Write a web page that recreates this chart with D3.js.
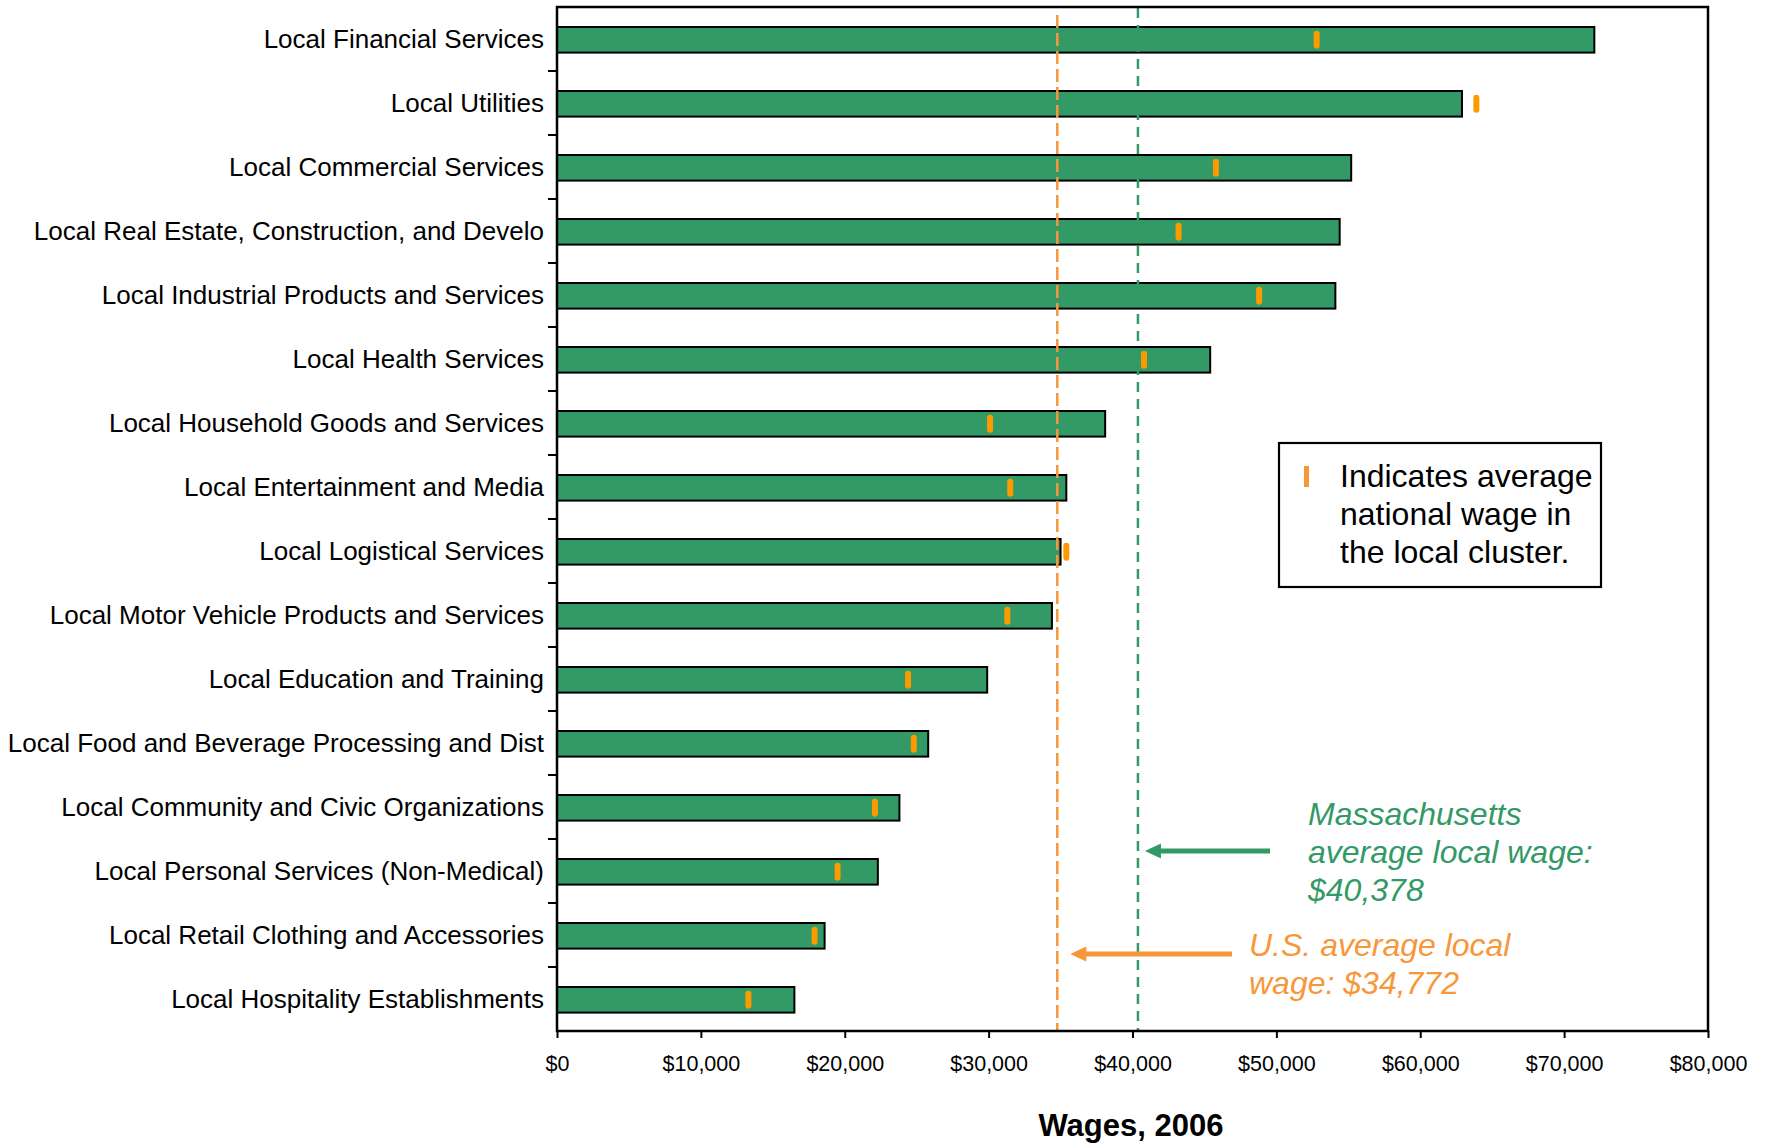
<!DOCTYPE html>
<html><head><meta charset="utf-8">
<script src="https://cdn.jsdelivr.net/npm/d3@7"></script>
<style>
body{margin:0;background:#fff}
svg{display:block}
text{font-family:"Liberation Sans",Arial,Helvetica,sans-serif}
</style>
</head><body>
<svg id="c" width="1768" height="1143"></svg>
<script>
const categories = [
  "Local Financial Services",
  "Local Utilities",
  "Local Commercial Services",
  "Local Real Estate, Construction, and Develo",
  "Local Industrial Products and Services",
  "Local Health Services",
  "Local Household Goods and Services",
  "Local Entertainment and Media",
  "Local Logistical Services",
  "Local Motor Vehicle Products and Services",
  "Local Education and Training",
  "Local Food and Beverage Processing and Dist",
  "Local Community and Civic Organizations",
  "Local Personal Services (Non-Medical)",
  "Local Retail Clothing and Accessories",
  "Local Hospitality Establishments"
];
const maWages = [72100, 62900, 55200, 54400, 54100, 45400, 38100, 35400, 35000, 34400, 29900, 25800, 23800, 22300, 18600, 16500];
const usWages = [52800, 63900, 45800, 43200, 48800, 40800, 30100, 31500, 35400, 31300, 24400, 24800, 22100, 19500, 17900, 13300];
const xTickValues = [0, 10000, 20000, 30000, 40000, 50000, 60000, 70000, 80000];
const maAverage = 40378;
const usAverage = 34772;
const maNote = ["Massachusetts", "average local wage:", "$40,378"];
const usNote = ["U.S. average local", "wage: $34,772"];
const legendLines = ["Indicates average", "national wage in", "the local cluster."];
const axisTitle = "Wages, 2006";

const GREEN = "#339966", ORANGE_LINE = "#F7973A", ORANGE_MARK = "#FF9900";
const svg = d3.select("#c");
const L = 557, R = 1708, T = 7, B = 1031;
const x = d3.scaleLinear().domain([0, 80000]).range([L, R]);
const y = d3.scaleBand().domain(categories).range([T, B]).padding(0);
const bw = y.bandwidth();
const barH = bw * 0.4;
const rows = categories.map((c, i) => ({c, ma: maWages[i], us: usWages[i]}));

// bars
svg.append("g").selectAll("rect").data(rows).join("rect")
  .attr("x", x(0)).attr("y", d => y(d.c) + (bw - barH) / 2 + 0.8)
  .attr("width", d => x(d.ma) - x(0)).attr("height", barH)
  .attr("fill", GREEN).attr("stroke", "#000").attr("stroke-width", 2);

// reference dashed lines
svg.append("line").attr("x1", x(usAverage)).attr("x2", x(usAverage)).attr("y1", T + 8).attr("y2", B)
  .attr("stroke", ORANGE_LINE).attr("stroke-width", 2.5).attr("stroke-dasharray", "13,5");
svg.append("line").attr("x1", x(maAverage)).attr("x2", x(maAverage)).attr("y1", T + 1).attr("y2", B)
  .attr("stroke", GREEN).attr("stroke-width", 2.5).attr("stroke-dasharray", "10,7");

// national markers
svg.append("g").selectAll("rect").data(rows).join("rect")
  .attr("x", d => x(d.us) - 3).attr("y", d => y(d.c) + bw / 2 - 9 + 0.8)
  .attr("width", 6).attr("height", 18).attr("rx", 3)
  .attr("fill", ORANGE_MARK);

// left axis labels
const gy = svg.append("g").attr("transform", `translate(${L},0)`)
  .call(d3.axisLeft(y).tickSize(0).tickPadding(13));
gy.select(".domain").remove();
gy.selectAll("text").attr("font-size", 26).attr("fill", "#000").attr("dy", "0.36em")
  .style("font-family", '"Liberation Sans",Arial,sans-serif');

// boundary ticks on category axis
svg.append("g").selectAll("line").data(categories.slice(1)).join("line")
  .attr("x1", L - 9).attr("x2", L).attr("y1", d => y(d)).attr("y2", d => y(d))
  .attr("stroke", "#000").attr("stroke-width", 2);

// x axis
const gx = svg.append("g").attr("transform", `translate(0,${B})`)
  .call(d3.axisBottom(x).tickValues(xTickValues).tickSize(7).tickPadding(0)
    .tickFormat(d => "$" + d3.format(",")(d)));
gx.select(".domain").remove();
gx.selectAll(".tick line").attr("stroke", "#000").attr("stroke-width", 2);
gx.selectAll("text").attr("font-size", 21.5).attr("fill", "#000").attr("y", 40).attr("dy", 0)
  .style("font-family", '"Liberation Sans",Arial,sans-serif');

// frame
svg.append("path")
  .attr("d", `M${L},${T}H${R}V${B}H${L}Z`)
  .attr("fill", "none").attr("stroke", "#000").attr("stroke-width", 2.5);

// axis title
svg.append("text").attr("x", 1131).attr("y", 1136).attr("text-anchor", "middle")
  .attr("font-size", 31).attr("font-weight", "bold").text(axisTitle);

// legend
svg.append("rect").attr("x", 1279).attr("y", 443).attr("width", 322).attr("height", 144)
  .attr("fill", "#fff").attr("stroke", "#000").attr("stroke-width", 2.2);
svg.append("rect").attr("x", 1304).attr("y", 466).attr("width", 5).attr("height", 21).attr("fill", ORANGE_LINE);
svg.append("g").selectAll("text").data(legendLines).join("text")
  .attr("x", 1340).attr("y", (d, i) => 487 + i * 38).attr("font-size", 32).attr("fill", "#000").text(d => d);

// annotations
function arrow(xTail, xTip, yy, color) {
  svg.append("line").attr("x1", xTail).attr("x2", xTip + 12).attr("y1", yy).attr("y2", yy)
    .attr("stroke", color).attr("stroke-width", 5);
  svg.append("path").attr("d", `M${xTip},${yy}L${xTip + 16},${yy - 7.5}L${xTip + 16},${yy + 7.5}Z`).attr("fill", color);
}
arrow(1270, x(maAverage) + 7, 851, GREEN);
arrow(1232, x(usAverage) + 13, 954, ORANGE_LINE);
svg.append("g").selectAll("text").data(maNote).join("text")
  .attr("x", 1308).attr("y", (d, i) => 825 + i * 38).attr("font-size", 32).attr("font-style", "italic")
  .attr("fill", GREEN).text(d => d);
svg.append("g").selectAll("text").data(usNote).join("text")
  .attr("x", 1249).attr("y", (d, i) => 956 + i * 38).attr("font-size", 32).attr("font-style", "italic")
  .attr("fill", ORANGE_LINE).text(d => d);
</script>
</body></html>
